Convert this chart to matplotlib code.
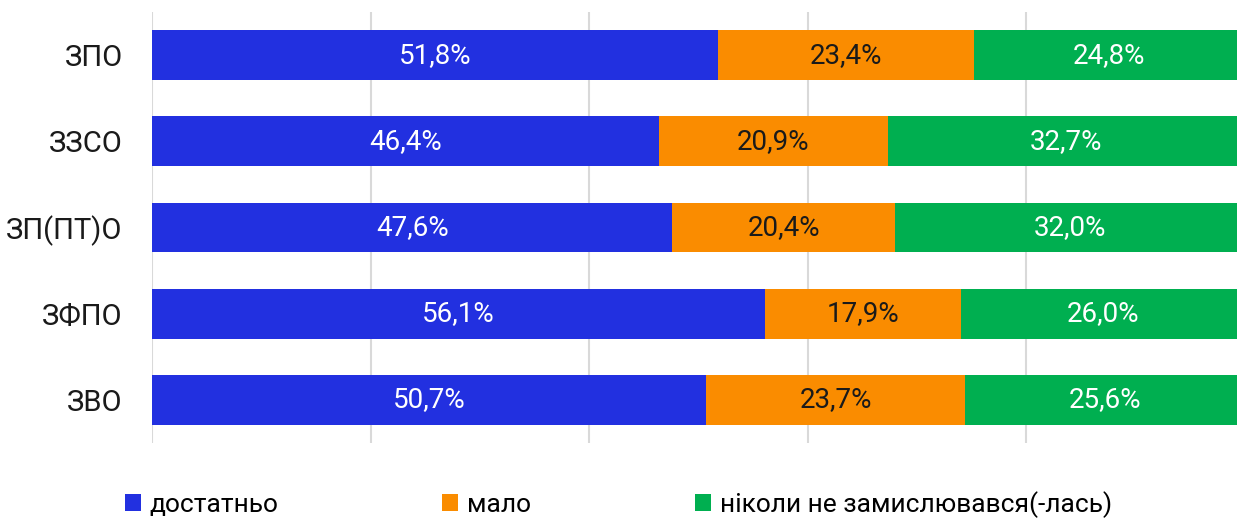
import matplotlib
matplotlib.use("Agg")
import matplotlib.pyplot as plt
import numpy as np

plt.rcParams["font.family"] = ["Roboto", "DejaVu Sans"]

categories = ["ЗПО", "ЗЗСО", "ЗП(ПТ)О", "ЗФПО", "ЗВО"]
enough = [51.8, 46.4, 47.6, 56.1, 50.7]
little = [23.4, 20.9, 20.4, 17.9, 23.7]
never = [24.8, 32.7, 32.0, 26.0, 25.6]
series_names = ["достатньо", "мало", "ніколи не замислювався(-лась)"]
colors = ["#2230E0", "#FA8C00", "#00AF50"]
text_colors = ["white", "#1a1a1a", "white"]

W, H = 1237, 518
fig = plt.figure(figsize=(W / 100, H / 100), dpi=100)
# axes extends past the right edge, as in the original (100% is clipped)
ax = fig.add_axes([152 / W, (H - 443) / H, 1093 / W, 431 / H])

y = np.arange(len(categories))
left = np.zeros(len(categories))
for vals, name, col, tcol in zip([enough, little, never], series_names, colors, text_colors):
    vals = np.array(vals)
    bars = ax.barh(y, vals, left=left, height=0.58, color=col, label=name)
    for b, v in zip(bars, vals):
        ax.text(b.get_x() + b.get_width() / 2, b.get_y() + b.get_height() / 2,
                f"{v:.1f}%".replace(".", ","), ha="center", va="center",
                color=tcol, fontsize=20)
    left += vals

ax.set_xlim(0, 100)
ax.set_ylim(len(categories) - 0.5, -0.5)
ax.set_xticks([0, 20, 40, 60, 80, 100])
ax.set_xticklabels([])
ax.set_yticks(y)
ax.set_yticklabels(categories, fontsize=21, color="#1a1a1a")
ax.tick_params(axis="both", length=0)
ax.tick_params(axis="y", pad=21)
ax.grid(axis="x", color="#D9D9D9", lw=1.5)
ax.set_axisbelow(True)
for s in ax.spines.values():
    s.set_visible(False)

fig.legend(loc="lower center", bbox_to_anchor=(0.5, -0.03), ncol=3, frameon=False,
           fontsize=19, handlelength=0.6, handleheight=0.6, handletextpad=0.35,
           columnspacing=6.2, borderaxespad=0.2)

fig.savefig("out.png", dpi=100)
